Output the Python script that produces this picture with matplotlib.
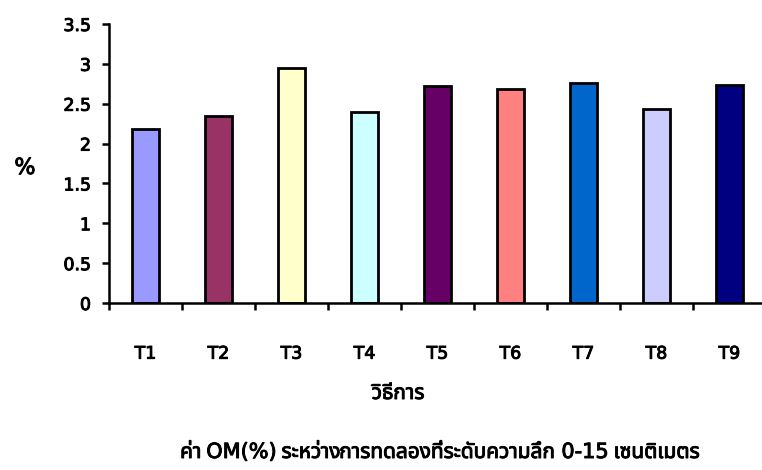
import matplotlib.pyplot as plt
import matplotlib.patheffects as pe
import numpy as np

treatments = ["T1", "T2", "T3", "T4", "T5", "T6", "T7", "T8", "T9"]
om_values = [2.18, 2.35, 2.95, 2.40, 2.72, 2.69, 2.76, 2.43, 2.74]
bar_colors = ["#9999FF", "#993366", "#FFFFCC", "#CCFFFF", "#660066",
              "#FF8080", "#0066CC", "#CCCCFF", "#000080"]
title_parts = ["ค่า", "OM(%)", "ระหว่างการทดลองที่ระดับความลึก", "0-15", "เซนติเมตร"]

plt.rcParams['font.family'] = ['DejaVu Sans', 'Noto Sans Thai', 'Noto Sans Thai UI',
                               'Loma', 'Garuda', 'Sarabun', 'Tlwg Typo', 'Noto Sans']

# slightly heavier strokes so Latin and Thai glyphs look the same weight
heavy = [pe.withStroke(linewidth=0.7, foreground="black")]

fig = plt.figure(figsize=(7.62, 4.70), dpi=100)
W, H = 762, 470
ax = fig.add_axes([109 / W, 1 - 303 / H, (766 - 109) / W, (303 - 24) / H])

x = np.arange(len(treatments))
ax.bar(x, om_values, width=0.37, color=bar_colors, edgecolor="black", linewidth=2)

ax.set_xlim(-0.5, len(treatments) - 0.5)
ax.set_ylim(0, 3.5)
ax.set_yticks(np.arange(0, 3.51, 0.5))
ax.set_yticklabels(["0", "0.5", "1", "1.5", "2", "2.5", "3", "3.5"])
ax.set_xticks(x)
ax.set_xticklabels(treatments)
ax.set_xticks(np.arange(-0.5, len(treatments), 1), minor=True)
ax.tick_params(axis="x", which="major", length=0, pad=30, labelsize=12.5)
ax.tick_params(axis="x", which="minor", length=5, width=1.8, direction="out")
ax.tick_params(axis="y", length=5, width=1.8, direction="out", labelsize=12.5, pad=8)
for lbl in ax.get_xticklabels() + ax.get_yticklabels():
    lbl.set_path_effects(heavy)

for side in ["top", "right"]:
    ax.spines[side].set_visible(False)
for side in ["left", "bottom"]:
    ax.spines[side].set_linewidth(1.8)

fig.text(25 / W, 1 - 168 / H, "%", fontsize=16, ha="center", va="center",
         path_effects=heavy)
fig.text(398 / W, 1 - 393 / H, "วิธีการ", fontsize=15, ha="center", va="center",
         path_effects=heavy)

# title is written piece by piece (mixed Thai/Latin text breaks with path effects)
renderer = fig.canvas.get_renderer()
pieces = []
xpos = 0
for part in title_parts:
    t = fig.text(xpos / W, 1 - 458 / H, part, fontsize=15, ha="left", va="baseline",
                 path_effects=heavy)
    bb = t.get_window_extent(renderer)
    xpos = bb.x1 + 5
    pieces.append(t)
total = xpos - 5
shift = 440 - total / 2
for t in pieces:
    px, py = t.get_position()
    t.set_position((px + shift / W, py))

fig.savefig("out.png", dpi=100)
